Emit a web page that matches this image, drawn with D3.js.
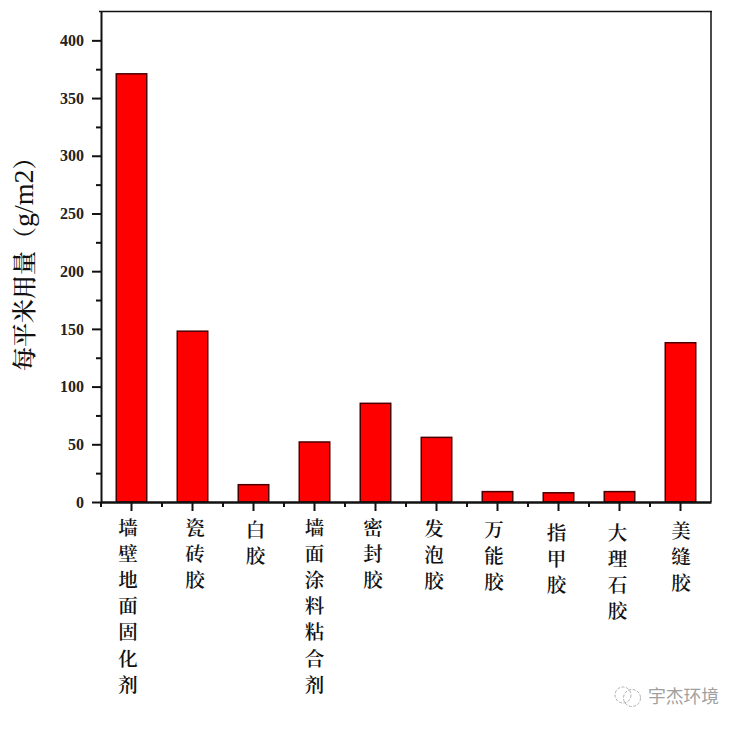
<!DOCTYPE html>
<html><head><meta charset="utf-8">
<style>html,body{margin:0;padding:0;background:#fff;overflow:hidden}svg{display:block}</style>
<script src="https://cdn.jsdelivr.net/npm/d3@7/dist/d3.min.js"></script>
</head><body><svg id="c" width="743" height="729"></svg>
<script>
const categories = ["墙壁地面固化剂","瓷砖胶","白胶","墙面涂料粘合剂","密封胶","发泡胶","万能胶","指甲胶","大理石胶","美缝胶"];
const usage = [371,148,15,52,85.5,56,9,8,9,138];
const majorTicks = [0,50,100,150,200,250,300,350,400];
const minorTicks = [25,75,125,175,225,275,325,375];
const yTitleCjk = "每平米用量（";
const yTitleUnit = "g/m2";
const yTitleEnd = "）";
const watermark = "宇杰环境";

const L=101,R=711,T=11.5,B=502;
const cjk = '"Noto Serif CJK SC","Noto Sans CJK SC","Noto Sans CJK JP",sans-serif';
const svg=d3.select("#c");
const x=d3.scaleBand().domain(categories).range([L,R]).paddingInner(0.5).paddingOuter(0.25);
const y=d3.scaleLinear().domain([0,425]).range([B,T]);

svg.append("g").selectAll("rect").data(usage).join("rect")
 .attr("x",(d,i)=>x(categories[i])).attr("width",x.bandwidth())
 .attr("y",d=>y(d)).attr("height",d=>B-y(d))
 .attr("fill","#ff0000").attr("stroke","#4a0000").attr("stroke-width",1.5);

// frame top and right
svg.append("line").attr("x1",L-2).attr("x2",R+1).attr("y1",T).attr("y2",T).attr("stroke","#111").attr("stroke-width",1.5);
svg.append("line").attr("x1",R).attr("x2",R).attr("y1",T).attr("y2",B).attr("stroke","#111").attr("stroke-width",1.5);

// y axis
const ya=svg.append("g").attr("transform",`translate(${L},0)`).call(d3.axisLeft(y).tickValues(majorTicks).tickSize(9).tickPadding(8).tickSizeOuter(0));
ya.select(".domain").attr("stroke","#111").attr("stroke-width",2);
ya.selectAll("line").attr("stroke","#111").attr("stroke-width",2);
ya.selectAll("text").attr("font-family",'"Liberation Serif",serif').attr("font-weight","bold").attr("font-size",16).attr("fill","#222");
const ym=svg.append("g").attr("transform",`translate(${L},0)`).call(d3.axisLeft(y).tickValues(minorTicks).tickSize(5).tickFormat(""));
ym.select(".domain").remove();
ym.selectAll("line").attr("stroke","#111").attr("stroke-width",2);

// x axis
const xa=svg.append("g").attr("transform",`translate(0,${B})`).call(d3.axisBottom(x).tickSize(9).tickSizeOuter(0).tickFormat(""));
xa.select(".domain").attr("stroke","#111").attr("stroke-width",2.4);
xa.selectAll("line").attr("stroke","#111").attr("stroke-width",2);
const step=x.step();
const xm=svg.append("g").attr("transform",`translate(0,${B})`);
xm.selectAll("line").data(categories).join("line")
 .attr("x1",d=>x(d)+x.bandwidth()/2-step/2).attr("x2",d=>x(d)+x.bandwidth()/2-step/2)
 .attr("y1",0).attr("y2",5).attr("stroke","#111").attr("stroke-width",2);

// x labels, vertical stack; the reference's labels sit slightly off their ticks
const nudgeX=[-3.5,2.5,2,0,-2.5,-2.5,-3.5,-2,-2,0.5];
const nudgeY=[0,0,2,0,0,1,2,5,5,3];
const lab=svg.append("g").attr("font-family",cjk).attr("font-size",19.5).attr("font-weight",600).attr("fill","#111").attr("text-anchor","middle");
categories.forEach((c,k)=>{
  const cx=x(c)+x.bandwidth()/2+nudgeX[k];
  lab.append("text").selectAll("tspan").data(Array.from(c)).join("tspan")
    .attr("x",cx).attr("y",(d,i)=>535+nudgeY[k]+i*26.1).text(d=>d);
});

// y title
const yt=svg.append("text").attr("transform","translate(33,371) rotate(-90)").attr("text-anchor","start")
 .attr("font-family",cjk).attr("font-size",24).attr("font-weight",600).attr("fill","#111");
yt.append("tspan").text(yTitleCjk);
yt.append("tspan").attr("font-family",'"Liberation Serif",serif').attr("font-weight","normal").attr("font-size",28).text(yTitleUnit);
yt.append("tspan").text(yTitleEnd);

// watermark
svg.append("text").attr("x",648).attr("y",703).attr("font-family",'"Noto Sans CJK SC",sans-serif').attr("font-size",17.8).attr("fill","#a0a0a0").text(watermark);
const wm=svg.append("g").attr("fill","none").attr("stroke","#b0b0b0").attr("stroke-width",1);
wm.append("circle").attr("cx",623).attr("cy",695).attr("r",8).attr("stroke-dasharray","3 1.5");
wm.append("circle").attr("cx",632).attr("cy",698).attr("r",8.5).attr("stroke-dasharray","3 1.5");
</script></body></html>
